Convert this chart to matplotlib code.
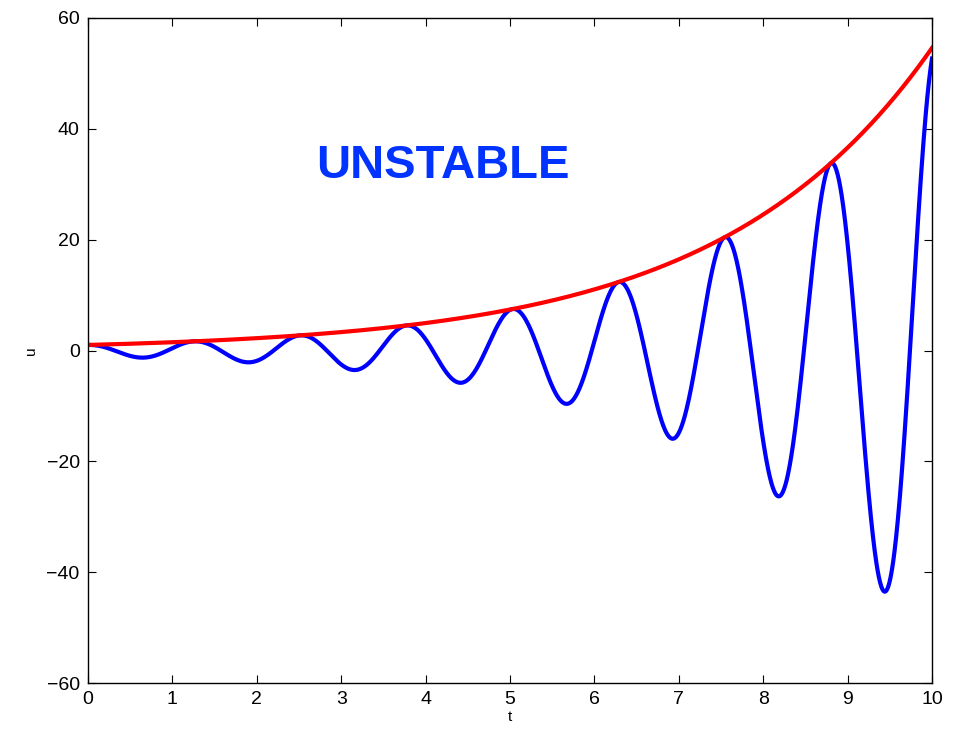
import numpy as np
import matplotlib
matplotlib.use("Agg")
import matplotlib.pyplot as plt

# Values: envelope e^(growth*t), oscillation cos(freq*t)
t_range = [0.0, 10.0]
growth_rate = 0.4      # envelope reaches ~54.6 at t=10
frequency = 5.0        # peaks every ~1.26 in t
n_samples = 2000

x_ticks = [0, 1, 2, 3, 4, 5, 6, 7, 8, 9, 10]
y_ticks = [-60, -40, -20, 0, 20, 40, 60]
y_tick_labels = ["\u221260", "\u221240", "\u221220", "0", "20", "40", "60"]
annotation = "UNSTABLE"
annotation_pos = (4.21, 33.3)

t = np.linspace(t_range[0], t_range[1], n_samples)
envelope = np.exp(growth_rate * t)
u = envelope * np.cos(frequency * t)

plt.rcParams['font.family'] = ['Liberation Sans', 'DejaVu Sans']
fig = plt.figure(figsize=(9.55, 7.29), dpi=100)
ax = fig.add_axes([88/955, 1-683/729, (932-88)/955, (683-18)/729])

ax.plot(t, u, color=(0, 0, 1), lw=3.0)
ax.plot(t, envelope, color=(1, 0, 0), lw=3.0)

ax.set_xlim(0, 10)
ax.set_ylim(-60, 60)
ax.set_xticks(x_ticks)
ax.set_xticklabels([str(v) for v in x_ticks])
ax.set_yticks(y_ticks)
ax.set_yticklabels(y_tick_labels)
ax.tick_params(direction='in', top=True, right=True, length=6, width=0.8,
               labelsize=14, pad=6)
for s in ax.spines.values():
    s.set_linewidth(1.0)
ax.set_xlabel("t", fontsize=11, labelpad=1)
ax.set_ylabel("u", fontsize=11, labelpad=6)

ax.text(annotation_pos[0], annotation_pos[1], annotation, color='#0033FF',
        fontsize=34, fontweight='bold', ha='center', va='center')

fig.savefig("out.png", dpi=100)
